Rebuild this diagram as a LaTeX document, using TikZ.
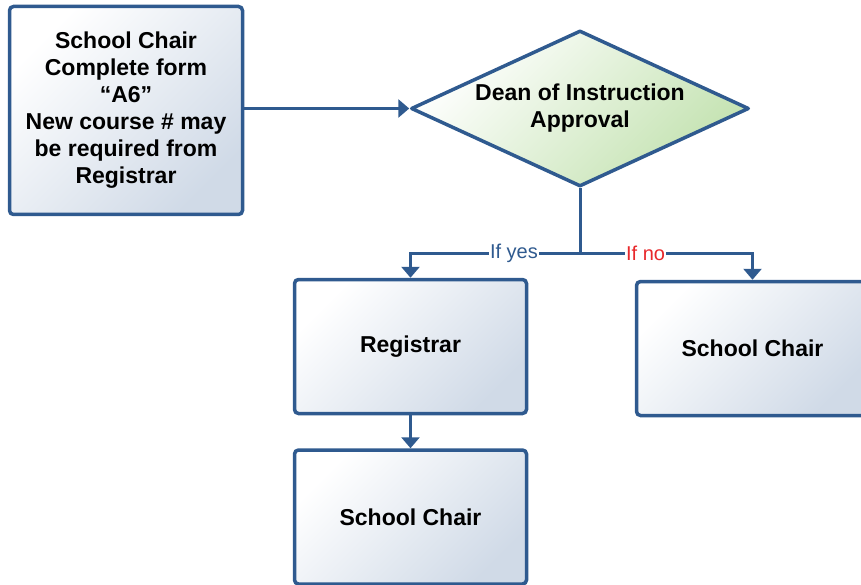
\documentclass[tikz,border=0pt]{standalone}
\usepackage{fontspec}
\setmainfont{Liberation Sans}
\usetikzlibrary{shapes.geometric,arrows.meta}
\definecolor{lineblue}{HTML}{2F5A8F}
\definecolor{boxtint}{HTML}{D0DAE7}
\definecolor{greentint}{HTML}{C3E2B0}
\definecolor{yesblue}{HTML}{2F5A8F}
\definecolor{nored}{HTML}{E8282B}
\tikzset{
  flowbox/.style={draw=lineblue, line width=3.5pt, rounded corners=4pt,
    top color=white, middle color=white, bottom color=boxtint, shading angle=45,
    inner sep=0pt, align=center, font=\fontsize{23}{27}\selectfont\bfseries},
  decision/.style={diamond, draw=lineblue, line width=3.5pt, line join=round,
    top color=white, middle color=white!65!greentint, bottom color=greentint, shading angle=45,
    inner sep=0pt},
  decisiontext/.style={align=center, inner sep=0pt, font=\fontsize{23}{27}\selectfont\bfseries},
  link/.style={draw=lineblue, line width=3pt, -{Triangle[width=18pt,length=11pt]}},
  plain/.style={draw=lineblue, line width=3pt},
  branchlabel/.style={fill=white, inner sep=1pt, font=\fontsize{20}{22}\selectfont}
}
\begin{document}
\begin{tikzpicture}[x=1pt,y=-1pt]
\useasboundingbox (0,0) rectangle (861,585);
\clip (0,0) rectangle (861,585);
\node[flowbox, minimum width=233pt, minimum height=208pt] (A) at (126,110.5)
  {School Chair\\Complete form\\``A6''\\New course \# may\\be required from\\Registrar};
\node[decision, minimum width=338pt, minimum height=156pt] (D) at (580,108.5) {};
\node[decisiontext] (Dt) at (580,108.5) {Dean of Instruction\\Approval};
\node[flowbox, minimum width=232pt, minimum height=134pt] (R) at (410.5,346.5) {Registrar};
\node[flowbox, minimum width=232pt, minimum height=134pt] (S2) at (752.5,348.5) {School Chair};
\node[flowbox, minimum width=232pt, minimum height=134pt] (S3) at (410.5,517) {School Chair};
\coordinate (split) at (580,253);
\draw[link] (A.east |- D.west) -- (D.west);
\draw[plain] (D.south) -- (split);
\draw[link] (split) -| node[branchlabel, pos=0.195, text=yesblue] {If yes} (R.north);
\draw[link] (split) -| node[branchlabel, pos=0.19, text=nored] {If no} (S2.north);
\draw[link] (R.south) -- (S3.north);
\end{tikzpicture}
\end{document}
